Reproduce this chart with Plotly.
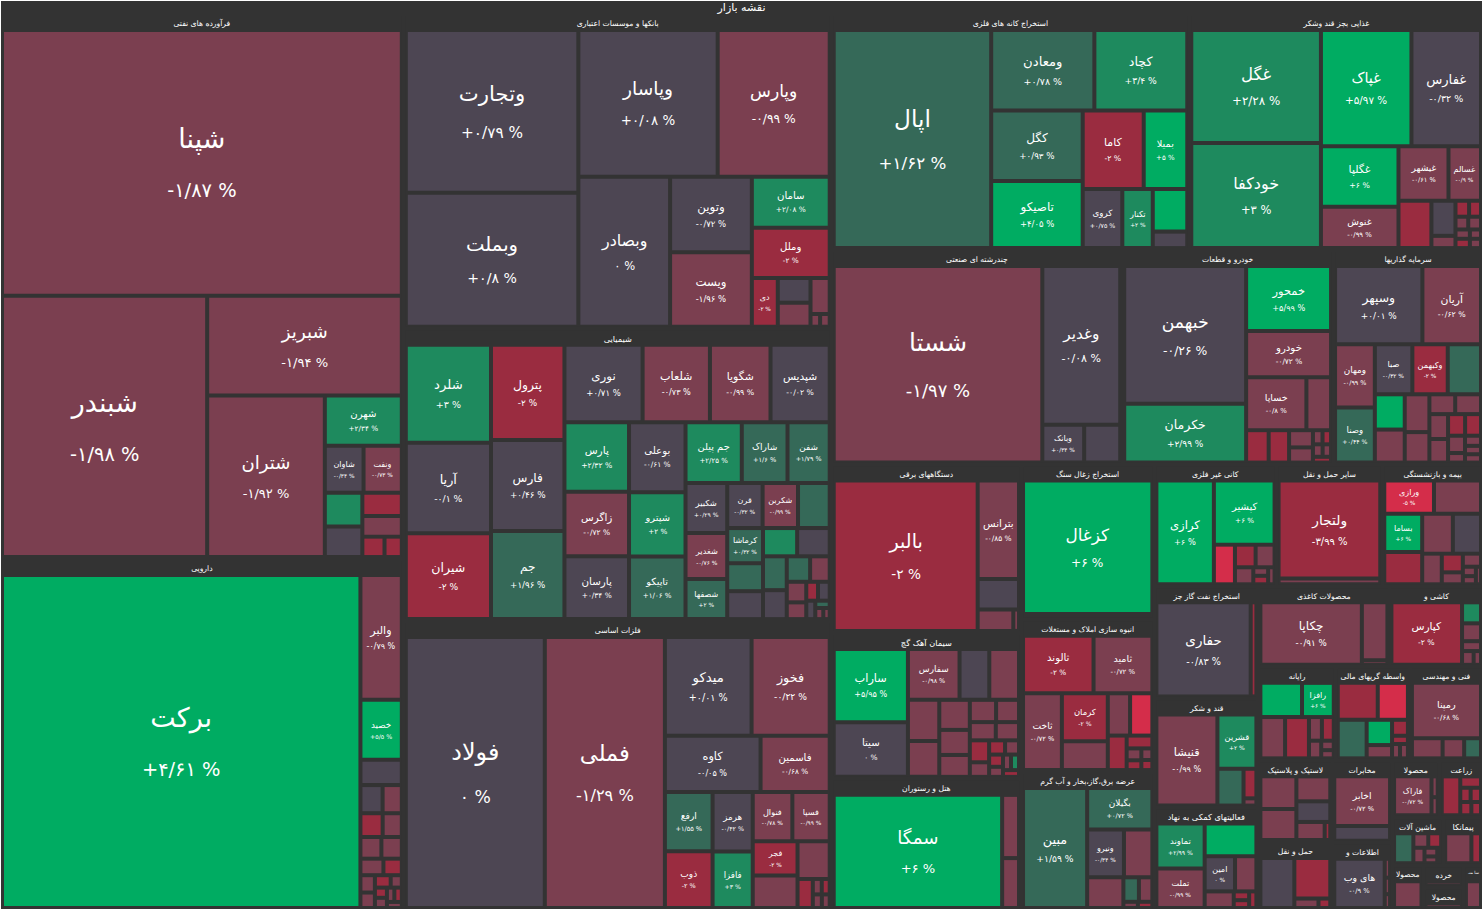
import math
import plotly.graph_objects as go

title = "نقشه بازار"
BG = "#333333"
GUTTER = 4  # px of gap around each visible tile (areas below are visible tile areas, k px^2)

sector_names = [
    "فرآورده های نفتی", "دارویی", "بانکها و موسسات اعتباری", "شیمیایی", "فلزات اساسی",
    "استخراج کانه های فلزی", "غذایی بجز قند وشکر", "چندرشته ای صنعتی", "خودرو و قطعات",
    "سرمایه گذاریها", "دستگاههای برقی", "سیمان آهک گچ", "هتل و رستوران", "استخراج زغال سنگ",
    "انبوه سازی املاک و مستغلات", "عرضه برق،گاز،بخار و آب گرم", "کانی غیر فلزی", "سایر حمل و نقل",
    "بیمه و بازنشستگی", "استخراج نفت گاز جز", "قند و شکر", "فعالیتهای کمکی به نهاد",
    "محصولات کاغذی", "کاشی و", "رایانه", "واسطه گریهای مالی", "فنی و مهندسی",
    "لاستیک و پلاستیک", "حمل و نقل", "مخابرات", "اطلاعات و", "محصولا", "زراعت",
    "ماشین آلات", "پیمانکا", "محصولا", "خرده", "محصولا", "سا منـ",
]
sector_sizes = [219, 141, 134, 124.5, 123, 84, 69, 62, 45, 32, 31.7, 27.5, 24.7, 20.6, 20.2,
                18.3, 14.8, 12.8, 12.2, 11.6, 11.3, 10.6, 10.5, 7.5, 7.2, 6.9, 6.8, 6.0, 5.0,
                4.9, 4.0, 2.7, 2.45, 2.44, 1.9, 1.4, 0.9, 0.9, 0.85]

leaf_names = [
    ["شپنا", "شبندر", "شبریز", "شتران", "شهرن", "شاوان", "ونفت", "", "", "", "", "", ""],
    ["برکت", "والبر", "خصید"] + [""] * 18,
    ["وتجارت", "وبملت", "وپاسار", "وپارس", "وبصادر", "وتوین", "ویست", "سامان", "وملل", "دی", "", "", "", "", ""],
    ["شلرد", "آریا", "شیران", "پترول", "فارس", "جم", "نوری", "شلعاب", "شگویا", "شپدیس", "پارس", "زاگرس",
     "پارسان", "بوعلی", "شپترو", "تاپیکو", "جم پیلن", "شاراک", "شفن", "شکبیر", "شغدیر", "شصفها", "قرن",
     "شکربن", "", "کرماشا"] + [""] * 16,
    ["فولاد", "فملی", "میدکو", "فخوز", "کاوه", "فاسمین", "ارفع", "ذوب", "هرمز", "فافزا", "فنوال", "فسپا", "فجر"] + [""] * 7,
    ["اپال", "ومعادن", "کچاد", "کگل", "تاصیکو", "کاما", "بمیلا", "کروی", "تکنار", "", ""],
    ["غگل", "خودکفا", "غپاک", "غفارس", "غگلپا", "غنوش", "غیشهر", "غسالم"] + [""] * 11,
    ["شستا", "وغدیر", "وبانک", ""],
    ["خبهمن", "خکرمان", "خمحور", "خودرو", "خساپا"] + [""] * 10,
    ["وسپهر", "آریان", "ومهان", "وصنا", "صبا", "وکبهمن"] + [""] * 16,
    ["بالبر", "بترانس", "", "", ""],
    ["ساراب", "سیتا", "سفارس"] + [""] * 20,
    ["سمگا", "", ""],
    ["کزغال", "", ""],
    ["ثالوند", "ثامید", "ثاخت", "کرمان"] + [""] * 9,
    ["مبین", "بگیلان", "ونیرو"] + [""] * 6,
    ["کرازی", "کپشیر"] + [""] * 7,
    ["ولتجار", ""],
    ["ورازی", "", "بساما"] + [""] * 10,
    ["حفاری", ""],
    ["قنیشا", "قشرین", "", "", ""],
    ["تماوند", "تملت", "", "امین", "", "", "", "", ""],
    ["چکاپا", "", ""],
    ["کپارس", "", "", "", "", ""],
    ["", "رافزا", "", "", "", "", "", "", ""],
    [""] * 9,
    ["رمپنا", "", "", ""],
    [""] * 6,
    [""] * 4,
    ["اخابر", ""],
    ["های وب", "", "", ""],
    ["فاراک", "", ""],
    [""] * 6,
    [""] * 7,
    ["", ""],
    [""],
    [""],
    [""],
    [""],
]

leaf_sizes = [
    [104, 52, 18.4, 18, 3.4, 1.5, 1.48, 1.0, 0.9, 0.6, 0.7, 0.3, 0.22],
    [116.5, 4.6, 2.1, 0.8, 0.44, 0.37, 0.36, 0.3, 0.3, 0.29, 0.24, 0.18, 0.14, 0.12, 0.1, 0.06, 0.05, 0.05, 0.04, 0.04, 0.03],
    [26.9, 22, 19.4, 15.5, 12.9, 5.6, 5.5, 3.5, 3.45, 1.0, 0.6, 0.58, 0.5, 0.05, 0.05],
    [7.7, 7.1, 6.7, 6.4, 6.1, 5.9, 5.5, 4.7, 4.2, 4.1, 4.0, 3.7, 3.6, 3.5, 3.2, 3.1, 3.0, 2.4, 2.2, 1.75,
     1.6, 1.37, 1.3, 1.3, 1.15, 1.0, 0.77, 0.77, 0.74, 0.7, 0.6, 0.5, 0.42, 0.34, 0.26, 0.2, 0.12, 0.12,
     0.08, 0.04, 0.03, 0.02],
    [36, 31, 7.8, 7.0, 4.8, 3.4, 2.4, 2.3, 2.0, 1.9, 1.6, 1.5, 1.24, 1.16, 0.95, 0.29, 0.06, 0.05, 0.05, 0.04],
    [33.3, 7.7, 6.9, 5.9, 5.6, 4.3, 3.0, 2.0, 1.5, 1.2, 0.4],
    [14.1, 13.1, 10, 7.6, 4.3, 2.85, 2.4, 1.5, 1.3, 0.65, 0.18, 0.12, 0.1, 0.08, 0.08, 0.06, 0.06, 0.04, 0.04],
    [39.8, 11.6, 1.3, 1.1],
    [16, 6.6, 5, 3.5, 2.8, 1.05, 0.54, 0.48, 0.27, 0.23, 0.06, 0.05, 0.05, 0.04, 0.04],
    [6.4, 4.2, 2.2, 1.9, 1.6, 1.5, 1.4, 0.84, 0.78, 0.73, 0.57, 0.36, 0.36, 0.32, 0.3, 0.24, 0.22, 0.18, 0.08, 0.08, 0.06, 0.06],
    [20.6, 3.6, 1.0, 0.56, 0.05],
    [4.8, 3.5, 2.2, 1.2, 1.2, 1.0, 0.86, 0.68, 0.55, 0.47, 0.4, 0.34, 0.31, 0.27, 0.27, 0.16, 0.12, 0.1, 0.08, 0.06, 0.05, 0.05, 0.04],
    [18.3, 0.84, 0.64],
    [15.1, 0.22, 0.04],
    [3.4, 2.8, 2.45, 1.76, 1.0, 0.68, 0.68, 0.44, 0.19, 0.08, 0.06, 0.05, 0.04],
    [7, 2.3, 1.44, 1.08, 0.86, 0.24, 0.2, 0.03, 0.03],
    [5.2, 3.3, 0.6, 0.3, 0.27, 0.18, 0.05, 0.05, 0.04],
    [8.8, 0.4],
    [1.33, 1.25, 1.16, 0.96, 0.96, 0.87, 0.42, 0.25, 0.14, 0.13, 0.05, 0.04, 0.03],
    [8.2, 0.37],
    [4.8, 1.7, 0.7, 0.23, 0.03],
    [1.85, 1.6, 1.4, 0.84, 0.56, 0.33, 0.06, 0.05, 0.05],
    [6.0, 1.25, 0.05],
    [4.1, 0.27, 0.22, 0.1, 0.08, 0.04],
    [1.18, 0.87, 0.81, 0.78, 0.19, 0.17, 0.12, 0.05, 0.04],
    [1.1, 0.8, 0.8, 0.42, 0.19, 0.13, 0.05, 0.04, 0.04],
    [3.1, 0.4, 0.26, 0.19],
    [0.8, 0.76, 0.55, 0.44, 0.3, 0.03],
    [1.54, 1.3, 0.14, 0.05],
    [2.45, 0.63],
    [2.6, 0.05, 0.04, 0.03],
    [1.1, 0.05, 0.04],
    [0.42, 0.1, 0.05, 0.05, 0.05, 0.04],
    [0.78, 0.24, 0.2, 0.18, 0.1, 0.07, 0.04],
    [0.46, 0.13],
    [0.18],
    [0.2],
    [0.1],
    [0.1],
]

N = None
leaf_changes = [
    [-1.87, -1.98, -1.94, -1.92, 2.34, -0.34, -0.73, N, N, N, N, N, N],
    [4.61, -0.79, 5.5] + [N] * 18,
    [0.79, 0.8, 0.08, -0.99, 0, -0.72, -1.96, 2.08, -2, -2, N, N, N, N, N],
    [3, -0.1, -2, -2, 0.46, 1.96, 0.71, -0.73, -0.99, -0.02, 2.32, -0.72, 0.34, -0.61, 2, 1.06, 2.25,
     1.6, 1.79, 0.29, -0.76, 2, -0.32, -0.99, N, 0.32] + [N] * 16,
    [0, -1.29, 0.01, -0.22, -0.05, -0.68, 1.55, -2, -0.42, 3, -0.78, -0.99, -2] + [N] * 7,
    [1.62, 0.78, 3.4, 0.93, 4.05, -2, 5, 0.75, 2, N, N],
    [2.28, 3, 5.97, -0.32, 6, -0.99, -0.61, -0.9] + [N] * 11,
    [-1.97, -0.08, 0.34, N],
    [-0.26, 2.99, 5.99, -0.72, -0.8] + [N] * 10,
    [0.01, -0.62, -0.99, 0.44, -0.32, -2] + [N] * 16,
    [-2, -0.85, N, N, N],
    [5.95, 0, -0.98] + [N] * 20,
    [6, N, N],
    [6, N, N],
    [-2, -0.72, -0.72, -2] + [N] * 9,
    [1.59, 0.72, -0.34] + [N] * 6,
    [6, 6] + [N] * 7,
    [-3.99, N],
    [-5, N, 6] + [N] * 10,
    [-0.83, N],
    [-0.99, 2, N, N, N],
    [2.99, -0.99, N, 0, N, N, N, N, N],
    [-0.91, N, N],
    [-2, N, N, N, N, N],
    [N, 6, N, N, N, N, N, N, N],
    [N] * 9,
    [-0.68, N, N, N],
    [N] * 6,
    [N] * 4,
    [-0.72, N],
    [-0.9, N, N, N],
    [-0.72, N, N],
    [N] * 6,
    [N] * 7,
    [N, N],
    [N],
    [N],
    [N],
    [N],
]

# tone classes: n neutral, m mild down, r down, R strong down, g mild up, G up, B strong up
leaf_tones = [
    ["m", "m", "m", "m", "G", "n", "m", "G", "n", "m", "r", "r", "r"],
    ["B", "m", "B", "n", "n", "m", "r", "m", "m", "m", "m", "r", "m", "m", "r", "m", "r", "m", "m", "r", "m"],
    ["n", "n", "n", "m", "n", "n", "m", "G", "r", "r", "n", "m", "m", "m", "m"],
    ["G", "n", "r", "r", "n", "g", "n", "m", "m", "n", "G", "m", "n", "n", "G", "g", "G", "g", "g", "n",
     "m", "g", "n", "m", "g", "g", "g", "n", "G", "n", "g", "n", "g", "m", "m", "m", "r", "n", "n", "g", "m", "m"],
    ["n", "m", "n", "m", "n", "m", "g", "r", "n", "G", "m", "m", "r", "m", "m", "r", "m", "r", "m", "m"],
    ["g", "g", "G", "g", "B", "r", "B", "n", "G", "B", "n"],
    ["G", "G", "B", "n", "B", "m", "m", "m", "r", "n", "m", "r", "r", "m", "m", "m", "r", "m", "m"],
    ["m", "n", "n", "n"],
    ["n", "G", "B", "m", "m", "m", "r", "r", "m", "m", "m", "r", "m", "m", "r"],
    ["n", "m", "m", "g", "n", "r", "g", "B", "m", "m", "m", "m", "m", "m", "m", "r", "r", "m", "m", "m", "m", "m"],
    ["r", "m", "n", "m", "m"],
    ["B", "n", "m", "n", "m", "m", "m", "m", "m", "m", "m", "m", "m", "m", "r", "m", "r", "m", "r", "m", "m", "G", "r"],
    ["B", "m", "m"],
    ["B", "r", "m"],
    ["r", "m", "m", "r", "m", "m", "R", "r", "r", "m", "r", "m", "r"],
    ["g", "g", "n", "m", "m", "g", "m", "m", "r"],
    ["B", "B", "R", "r", "m", "m", "m", "r", "m"],
    ["r", "m"],
    ["R", "m", "B", "r", "m", "n", "m", "r", "m", "m", "m", "m", "m"],
    ["n", "r"],
    ["m", "G", "g", "r", "m"],
    ["G", "m", "B", "n", "m", "m", "r", "r", "r"],
    ["m", "m", "m"],
    ["r", "G", "m", "m", "m", "m"],
    ["B", "B", "m", "r", "m", "r", "m", "m", "m"],
    ["r", "R", "g", "B", "m", "r", "r", "m", "m"],
    ["m", "m", "m", "g"],
    ["m", "m", "m", "n", "m", "r"],
    ["n", "r", "m", "r"],
    ["m", "n"],
    ["n", "m", "m", "m"],
    ["m", "m", "m"],
    ["r", "r", "r", "r", "r", "r"],
    ["g", "m", "r", "m", "m", "m", "m"],
    ["m", "r"],
    ["m"],
    ["m"],
    ["m"],
    ["m"],
]

tone_colors = {"n": "#4d4653", "m": "#7b3f50", "r": "#9a2c40", "R": "#d42d4a",
               "g": "#356958", "G": "#1e8a5e", "B": "#00ac62"}

FA = str.maketrans("0123456789.", "۰۱۲۳۴۵۶۷۸۹/")


def fmt(v):
    if v == 0:
        return "۰ %"
    s = f"{abs(v):g}".translate(FA)
    return ("+" if v > 0 else "-") + s + " %"


def with_gutter(a):
    # visible tile area (k px^2) -> tile area including its share of the gap
    return (math.sqrt(a * 1000) + GUTTER) ** 2


ids, labels, parents, values, colors, texts, fsizes = [], [], [], [], [], [], []

for i, sname in enumerate(sector_names):
    sid = f"s{i}"
    ids.append(sid); labels.append(sname); parents.append(""); values.append(0)
    colors.append(BG); texts.append(sname); fsizes.append(11.5)
    tiles = [with_gutter(a) for a in leaf_sizes[i]]
    total = sum(tiles)
    for j, (nm, sz, ch, tn) in enumerate(zip(leaf_names[i], leaf_sizes[i], leaf_changes[i], leaf_tones[i])):
        ids.append(f"s{i}-{j}")
        labels.append(nm if nm else " ")
        parents.append(sid)
        values.append(tiles[j] * sector_sizes[i] / total)
        colors.append(tone_colors[tn])
        if nm:
            f = min(27.0, max(8.0, 4 + 0.105 * math.sqrt(sz * 1000)))
            base = f * (1 + 0.4 * min(1.0, max(0.0, (f - 10) / 14)))
            texts.append(f"<span style='font-size:{f:.1f}px'>{nm}</span><br>"
                         f"<span style='font-size:{0.72 * f:.1f}px'>{fmt(ch)}</span>")
            fsizes.append(round(base, 1))
        else:
            texts.append("")
            fsizes.append(8)

fig = go.Figure(go.Treemap(
    ids=ids, labels=labels, parents=parents, values=values,
    branchvalues="remainder", sort=True,
    text=texts, textinfo="text", textposition="middle center",
    textfont=dict(family="DejaVu Sans", color="white", size=fsizes),
    marker=dict(colors=colors, line=dict(width=0), depthfade=False,
                pad=dict(t=16, l=2, r=2, b=2)),
    tiling=dict(packing="squarify", pad=4),
    pathbar=dict(visible=False),
    hoverinfo="label",
))
fig.update_layout(
    width=1483, height=911,
    margin=dict(l=0, r=0, t=0, b=1),
    paper_bgcolor=BG, plot_bgcolor=BG,
    font=dict(family="DejaVu Sans", color="white", size=11),
    title=dict(text=title, x=0.5, xanchor="center", y=1 - 7.5 / 911, yref="container",
               yanchor="middle", pad=dict(t=0, b=0, l=0, r=0),
               font=dict(family="DejaVu Sans", color="white", size=11)),
)
fig.write_html("out.html", config={"displayModeBar": False},
               post_script="document.body.style.margin='0px';document.body.style.background='#333333';")
